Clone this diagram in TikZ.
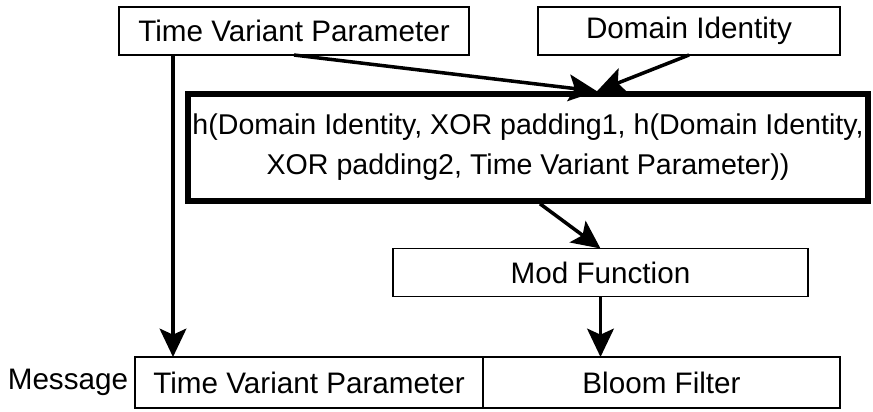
\documentclass[tikz,border=0pt]{standalone}
\usepackage{fontspec}
\setmainfont{Liberation Sans}
\usetikzlibrary{positioning, arrows.meta}

\begin{document}
\begin{tikzpicture}[
    x=0.03cm, y=-0.03cm,
    every node/.style={font=\fontsize{25.3}{34}\selectfont},
    box/.style={draw, line width=1.2pt, inner sep=0pt, outer sep=0pt, minimum height=1.44cm},
    hashbox/.style={draw, line width=5pt, inner sep=0pt, minimum width=20.4cm, minimum height=3.2cm, align=center, font=\fontsize{24.4}{34}\selectfont},
    arrow/.style={-{Stealth[length=0.85cm, width=0.8cm, inset=0.18cm]}, line width=3pt},
]
    \useasboundingbox (0,0) rectangle (873,411);

    % Inputs
    \node[box, minimum width=10.5cm] (tvptop) at (294,31) {Time Variant Parameter};
    \node[box, minimum width=9.06cm] (domid) at (689,31) {Domain Identity};

    % Hash
    \node[hashbox] (hash) at (528,147.5) {h(Domain Identity, XOR padding1, h(Domain Identity,\\ XOR padding2, Time Variant Parameter))};
    \coordinate (join) at ([xshift=2.07cm]hash.north);

    % Mod function
    \node[box, minimum width=12.45cm] (mod) at (600.5,272.5) {Mod Function};

    % Message
    \node[box, minimum width=10.44cm, minimum height=1.53cm] (tvpmsg) at (309,382.5) {Time Variant Parameter};
    \node[box, minimum width=10.71cm, minimum height=1.53cm, right=0pt of tvpmsg] (bloom) {Bloom Filter};
    \node[inner sep=0pt, left=0.2cm of tvpmsg] (msg) {Message};

    \draw[arrow] (tvptop.south) -- (join);
    \draw[arrow] (domid.south) -- (join);
    \draw[arrow] ([xshift=0.36cm]hash.south) -- (mod.north);
    \draw[arrow] (mod.south) -- (mod.south |- bloom.north);
    \draw[arrow] ([xshift=1.62cm]tvptop.south west) -- ([xshift=1.62cm]tvptop.south west |- tvpmsg.north);

\end{tikzpicture}
\end{document}
